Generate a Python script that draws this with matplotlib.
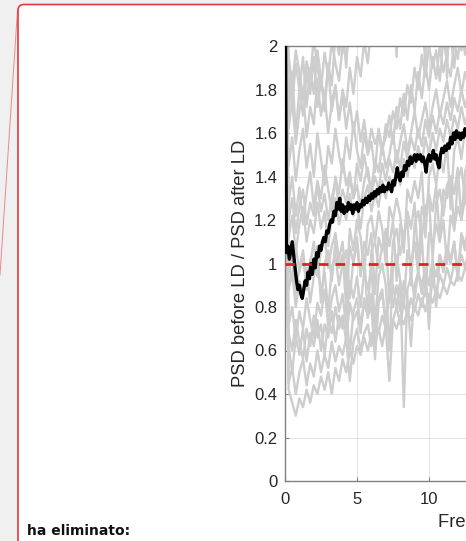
import numpy as np
import matplotlib
matplotlib.use("Agg")
import matplotlib.pyplot as plt
from matplotlib.patches import FancyBboxPatch
from matplotlib.lines import Line2D
from matplotlib.transforms import IdentityTransform

plt.rcParams['font.family'] = ['Liberation Sans', 'DejaVu Sans']

GRAY_STEP = 0.25
MEAN_STEP = 0.1

# individual ratio curves (grey)
gray_curves = [
    [2.9, 1.95, 1.82, 1.98, 1.88, 1.76, 1.93, 1.85, 2.04, 1.9, 1.8, 1.97, 1.86, 2.02, 1.92, 1.84, 2.0, 1.94,
     2.1, 2.03, 2.15, 2.08, 2.22, 2.12, 2.3, 2.18, 2.25, 2.35, 2.2, 2.3, 2.4, 2.28, 2.45, 2.36, 2.5, 2.4,
     2.55, 2.44, 2.6, 2.5, 2.62, 2.55, 2.7, 2.6, 2.68, 2.75, 2.62, 2.8, 2.7, 2.85, 2.76, 2.9],
    [2.7, 1.7, 1.88, 1.6, 1.8, 1.95, 1.72, 1.9, 1.78, 1.98, 1.85, 1.7, 1.92, 1.82, 2.05, 1.96, 2.1, 1.9,
     2.2, 2.05, 2.15, 2.3, 2.1, 2.25, 2.4, 2.2, 2.32, 2.15, 2.3, 2.45, 2.25, 1.95, 2.35, 2.2, 2.4, 2.05,
     2.3, 2.5, 2.2, 1.9, 2.35, 2.45, 2.15, 2.5, 2.3, 1.85, 2.4, 2.55, 2.3, 2.6, 2.1, 2.5],
    [2.6, 1.62, 1.75, 1.55, 1.7, 1.8, 1.58, 1.72, 1.64, 1.85, 1.68, 1.78, 1.6, 1.74, 1.82, 1.66, 1.8, 1.72,
     1.9, 1.78, 1.95, 1.86, 2.02, 1.92, 2.1, 2.0, 2.15, 2.08, 2.2, 2.12, 2.25, 2.18, 2.3, 2.2, 2.35, 2.26,
     2.4, 2.3, 2.45, 2.36, 2.5, 2.4, 2.55, 2.45, 2.6, 2.5, 2.65, 2.55, 2.7, 2.6, 2.75, 2.65],
    [2.8, 1.86, 1.74, 1.92, 1.8, 1.68, 1.88, 1.78, 1.95, 1.72, 1.84, 1.76, 1.9, 1.7, 1.82, 1.66, 1.78, 1.62,
     1.74, 1.6, 1.7, 1.56, 1.66, 1.52, 1.62, 1.55, 1.6, 1.5, 1.64, 1.58, 1.7, 1.62, 1.76, 1.68, 1.82, 1.74,
     1.9, 1.8, 1.96, 1.86, 2.0, 1.9, 1.98, 1.84, 2.04, 1.92, 1.86, 2.02, 1.94, 2.1, 1.96, 2.06],
    [2.5, 1.45, 1.58, 1.38, 1.52, 1.62, 1.44, 1.55, 1.4, 1.6, 1.48, 1.36, 1.54, 1.46, 1.62, 1.5, 1.42, 1.58,
     1.48, 1.65, 1.52, 1.44, 1.6, 1.5, 1.56, 1.42, 1.62, 1.53, 1.58, 1.68, 1.55, 1.72, 1.62, 1.78, 1.66, 1.82,
     1.7, 1.88, 1.76, 1.92, 1.8, 1.95, 1.85, 2.0, 1.88, 1.96, 2.05, 1.9, 2.08, 1.98, 2.12, 2.02],
    [2.4, 1.28, 1.4, 1.22, 1.35, 1.18, 1.32, 1.42, 1.26, 1.38, 1.3, 1.45, 1.34, 1.24, 1.4, 1.32, 1.48, 1.36,
     1.42, 1.3, 1.46, 1.38, 1.5, 1.4, 1.34, 1.48, 1.42, 1.55, 1.44, 1.5, 1.6, 1.46, 1.56, 1.64, 1.52, 1.6,
     1.7, 1.58, 1.66, 1.74, 1.62, 1.72, 1.8, 1.68, 1.76, 1.84, 1.72, 1.82, 1.9, 1.78, 1.88, 1.82],
    [2.35, 1.2, 1.3, 1.14, 1.26, 1.34, 1.18, 1.28, 1.22, 1.36, 1.24, 1.32, 1.2, 1.3, 1.38, 1.26, 1.34, 1.28,
     1.4, 1.3, 1.36, 1.26, 1.38, 1.44, 1.32, 1.4, 1.34, 1.46, 1.38, 1.48, 1.42, 1.52, 1.44, 1.56, 1.48, 1.58,
     1.52, 1.62, 1.54, 1.66, 1.58, 1.68, 1.6, 1.7, 1.64, 1.74, 1.66, 1.76, 1.7, 1.8, 1.72, 1.78],
    [2.3, 1.12, 1.22, 1.05, 1.18, 1.26, 1.1, 1.2, 1.14, 1.28, 1.16, 1.24, 1.08, 1.22, 1.3, 1.18, 1.26, 1.2,
     1.32, 1.22, 1.28, 1.16, 1.3, 1.36, 1.24, 1.32, 1.26, 1.38, 1.3, 1.4, 1.34, 1.44, 1.36, 1.48, 1.4, 1.5,
     1.44, 1.54, 1.46, 1.58, 1.5, 1.6, 1.52, 1.62, 1.56, 1.66, 1.58, 1.68, 1.62, 1.72, 1.64, 1.7],
    [2.2, 1.02, 0.92, 1.08, 0.96, 1.04, 0.88, 1.0, 1.1, 0.94, 1.06, 1.12, 0.98, 1.08, 1.14, 1.02, 1.1, 0.9,
     1.16, 1.06, 1.2, 1.12, 0.95, 1.18, 1.22, 1.1, 1.24, 1.16, 1.0, 1.26, 1.2, 1.3, 1.22, 1.05, 1.34, 1.28,
     1.38, 1.3, 1.42, 1.12, 1.4, 1.46, 1.36, 1.5, 1.42, 1.55, 1.25, 1.52, 1.58, 1.48, 1.62, 1.56],
    [2.15, 0.96, 1.04, 0.86, 0.98, 1.06, 0.9, 1.02, 0.94, 1.08, 0.82, 1.0, 1.06, 0.92, 1.1, 0.98, 1.04, 0.8,
     1.08, 1.0, 1.12, 0.94, 1.1, 1.04, 1.14, 0.86, 1.12, 1.06, 1.16, 1.08, 1.2, 0.92, 1.18, 1.12, 1.24, 1.16,
     1.28, 1.0, 1.26, 1.2, 1.32, 1.24, 1.36, 1.1, 1.34, 1.3, 1.4, 1.32, 1.44, 1.2, 1.42, 1.48],
    [2.1, 0.88, 0.96, 0.8, 0.92, 0.85, 0.98, 0.82, 0.94, 1.0, 0.86, 0.96, 0.78, 0.98, 1.04, 0.9, 1.0, 1.06,
     0.84, 1.02, 1.08, 0.96, 1.04, 0.75, 1.06, 1.1, 0.98, 1.08, 1.12, 0.82, 1.1, 1.16, 1.04, 1.14, 1.2, 0.9,
     1.18, 1.24, 1.12, 1.26, 1.3, 1.02, 1.28, 1.34, 1.22, 1.36, 1.4, 1.15, 1.38, 1.44, 1.3, 1.46],
    [2.0, 0.72, 0.8, 0.65, 0.78, 0.7, 0.84, 0.74, 0.66, 0.82, 0.76, 0.88, 0.72, 0.84, 0.9, 0.78, 0.86, 0.7,
     0.92, 0.84, 0.94, 0.8, 0.96, 0.88, 0.98, 0.72, 0.94, 1.0, 0.9, 0.6, 0.98, 1.04, 0.92, 0.8, 1.06, 1.0,
     1.1, 0.95, 1.12, 0.85, 1.14, 1.08, 1.18, 1.1, 1.2, 1.0, 1.22, 1.16, 1.26, 1.2, 1.3, 1.24],
    [1.95, 0.68, 0.6, 0.74, 0.64, 0.56, 0.7, 0.62, 0.76, 0.66, 0.72, 0.58, 0.74, 0.68, 0.8, 0.7, 0.76, 0.64,
     0.82, 0.74, 0.78, 0.68, 0.84, 0.76, 0.8, 0.56, 0.82, 0.86, 0.74, 0.88, 0.8, 0.9, 0.78, 0.92, 0.84, 0.62,
     0.9, 0.96, 0.86, 0.98, 0.9, 1.02, 0.8, 1.04, 0.96, 1.06, 1.0, 1.1, 0.92, 1.12, 1.06, 1.14],
    [1.9, 0.62, 0.5, 0.66, 0.58, 0.7, 0.55, 0.68, 0.62, 0.74, 0.6, 0.72, 0.66, 0.78, 0.64, 0.76, 0.7, 0.8,
     0.58, 0.78, 0.84, 0.72, 0.82, 0.76, 0.86, 0.66, 0.84, 0.88, 0.7, 0.86, 0.9, 0.8, 0.92, 0.34, 0.88, 0.94,
     0.84, 0.96, 0.9, 0.98, 0.7, 1.0, 0.94, 1.04, 0.98, 1.08, 1.02, 1.1, 0.95, 1.14, 1.08, 1.18],
    [1.8, 0.45, 0.52, 0.4, 0.5, 0.56, 0.44, 0.54, 0.48, 0.6, 0.5, 0.58, 0.52, 0.64, 0.55, 0.62, 0.58, 0.66,
     0.46, 0.64, 0.7, 0.6, 0.68, 0.72, 0.62, 0.74, 0.68, 0.76, 0.7, 0.46, 0.74, 0.8, 0.72, 0.82, 0.76, 0.84,
     0.78, 0.86, 0.8, 0.9, 0.82, 0.92, 0.86, 0.95, 0.9, 0.98, 0.92, 1.0, 0.96, 1.04, 0.98, 1.06],
    [1.7, 0.42, 0.36, 0.3, 0.38, 0.34, 0.42, 0.36, 0.44, 0.4, 0.48, 0.42, 0.5, 0.4, 0.52, 0.46, 0.56, 0.5,
     0.6, 0.54, 0.62, 0.58, 0.66, 0.6, 0.68, 0.64, 0.7, 0.62, 0.72, 0.68, 0.74, 0.7, 0.76, 0.72, 0.78, 0.74,
     0.8, 0.76, 0.84, 0.78, 0.86, 0.82, 0.88, 0.84, 0.9, 0.86, 0.92, 0.9, 0.95, 0.92, 0.98, 0.96],
]

# mean ratio curve (black)
mean_curve = [
    2.6, 1.05, 1.08, 1.02, 1.06, 1.1, 1.04, 0.98, 0.92, 0.88,
    0.9, 0.86, 0.84, 0.88, 0.92, 0.9, 0.96, 0.93, 1.0, 0.95,
    1.02, 0.98, 1.05, 1.03, 1.08, 1.06, 1.1, 1.12, 1.1, 1.15,
    1.14, 1.18, 1.2, 1.19, 1.24, 1.22, 1.28, 1.25, 1.3, 1.24,
    1.27, 1.23, 1.26, 1.24, 1.28, 1.25, 1.27, 1.23, 1.27, 1.25,
    1.28, 1.24, 1.27, 1.26, 1.29, 1.27, 1.3, 1.28, 1.31, 1.29,
    1.32, 1.3, 1.33, 1.31, 1.34, 1.32, 1.35, 1.33, 1.36, 1.33,
    1.35, 1.34, 1.37, 1.35, 1.33, 1.38, 1.36, 1.4, 1.44, 1.4,
    1.38, 1.42, 1.4, 1.45, 1.43, 1.47, 1.45, 1.49, 1.46, 1.48,
    1.5, 1.47, 1.5, 1.48, 1.5, 1.47, 1.49, 1.46, 1.42, 1.48,
    1.5, 1.47, 1.49, 1.52, 1.48, 1.5, 1.46, 1.44, 1.5, 1.53,
    1.51, 1.54, 1.52, 1.55, 1.53, 1.58, 1.55, 1.6, 1.57, 1.61,
    1.58, 1.6, 1.57, 1.6, 1.58, 1.62, 1.59, 1.61,
]

reference_level = 1.0
x_ticks = [0, 5, 10]
y_ticks = [0, 0.2, 0.4, 0.6, 0.8, 1, 1.2, 1.4, 1.6, 1.8, 2]
y_tick_labels = ['0', '0.2', '0.4', '0.6', '0.8', '1', '1.2', '1.4', '1.6', '1.8', '2']
x_label = 'Frequency (Hz)'
y_label = 'PSD before LD / PSD after LD'
note_text = 'ha eliminato:'

W, H = 466, 541
fig = plt.figure(figsize=(W / 100, H / 100), dpi=100, facecolor='#f0f0f0')

# comment balloon behind the chart (pixel coordinates)
box = FancyBboxPatch((18, -40), 520, H - 3 + 40 - 1.5,
                     boxstyle='round,pad=0,rounding_size=6',
                     facecolor='white', edgecolor='#e0393e', linewidth=1.2,
                     transform=IdentityTransform(), zorder=-2)
fig.patches.append(box)
fig.lines.append(Line2D([17.5, 0], [H - 10, H - 275], color='#e9898c', linewidth=0.7,
                        transform=IdentityTransform(), zorder=-2))
fig.text(27 / W, 10 / H, note_text, fontsize=10, fontweight='bold',
         family='DejaVu Sans', color='#111111', va='center', ha='left')

# axes run past the right edge of the picture, as in the screenshot
ax_left, ax_bottom = 285 / W, 60 / H
ax_w, ax_h = 432 / W, 435 / H
ax = fig.add_axes([ax_left, ax_bottom, ax_w, ax_h])
ax.set_facecolor('white')

for vals in gray_curves:
    f = np.arange(len(vals)) * GRAY_STEP
    ax.plot(f, vals, color='#cdcdcd', linewidth=1.7, zorder=2)

f_mean = np.arange(len(mean_curve)) * MEAN_STEP
ax.plot(f_mean, mean_curve, color='black', linewidth=2.4, zorder=3)

ax.axhline(reference_level, color='#e41f26', linewidth=2.0, dashes=(3.5, 2.5), zorder=4)

ax.set_xlim(0, 30)
ax.set_ylim(0, 2)
ax.set_xticks(x_ticks)
ax.set_yticks(y_ticks)
ax.set_yticklabels(y_tick_labels)
ax.grid(True, color='#e3e3e3', linewidth=0.7)
ax.set_axisbelow(True)

ax.tick_params(direction='in', length=3, width=0.8, colors='#808080',
               labelcolor='#262626', labelsize=12)
ax.tick_params(axis='x', pad=8)
ax.tick_params(axis='y', pad=5.5)
for sp in ax.spines.values():
    sp.set_color('#808080')
    sp.set_linewidth(1.0)

ax.set_xlabel(x_label, fontsize=13.2, color='#262626', labelpad=5)
ax.set_ylabel(y_label, fontsize=13.2, color='#262626', labelpad=4)

fig.savefig('out.png', dpi=100, facecolor=fig.get_facecolor())
